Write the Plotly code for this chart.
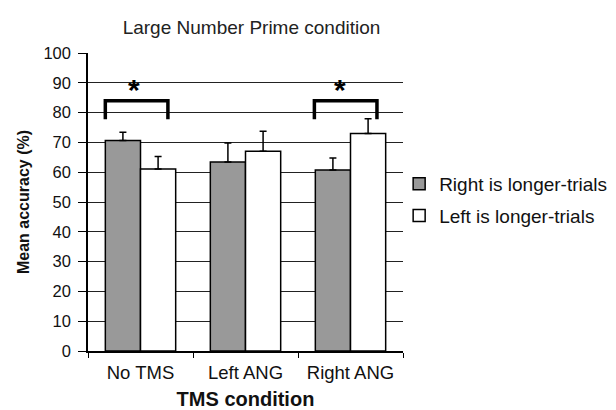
import plotly.graph_objects as go

categories = ["No TMS", "Left ANG", "Right ANG"]
right_longer = [70.6, 63.4, 60.7]
right_longer_err = [2.8, 6.4, 4.1]
left_longer = [61.1, 67.0, 73.0]
left_longer_err = [4.2, 6.7, 4.9]
y_ticks = list(range(0, 101, 10))

# significance brackets: (category index, left offset, right offset, top, leg bottom, star offset)
brackets = [(0, -0.335, 0.261, 84.0, 77.8, -0.06), (2, -0.344, 0.252, 84.0, 77.8, -0.096)]
star_level = 88.7

FONT = "Liberation Sans, Arial, sans-serif"

fig = go.Figure()
fig.add_trace(go.Bar(
    x=categories, y=right_longer, name="Right is longer-trials",
    marker=dict(color="#999999", line=dict(color="black", width=1.5)),
    error_y=dict(type="data", array=right_longer_err, arrayminus=[0]*3, symmetric=False,
                 color="black", thickness=1.5, width=3.5),
    legendgroup="a",
))
fig.add_trace(go.Bar(
    x=categories, y=left_longer, name="Left is longer-trials",
    marker=dict(color="white", line=dict(color="black", width=1.5)),
    error_y=dict(type="data", array=left_longer_err, arrayminus=[0]*3, symmetric=False,
                 color="black", thickness=1.5, width=3.5),
    legendgroup="b",
))

for ci, lo, hi, top, bot, so in brackets:
    fig.add_shape(type="path", xref="x", yref="y",
                  path=f"M {ci+lo} {bot} L {ci+lo} {top} L {ci+hi} {top} L {ci+hi} {bot}",
                  line=dict(color="black", width=3.5))
    fig.add_annotation(x=ci+so, y=star_level, xref="x", yref="y", text="<b>*</b>",
                       showarrow=False, font=dict(size=30, color="black", family=FONT),
                       yshift=-3)

fig.update_layout(
    width=616, height=410,
    margin=dict(l=80, r=209, t=45, b=67),
    paper_bgcolor="white", plot_bgcolor="white",
    font=dict(family=FONT, color="#111111"),
    barmode="group", bargap=0.33, bargroupgap=0,
    title=dict(text="Large Number Prime condition", x=243.5/616, xref="container", xanchor="center",
               y=1-19/410, yref="container", yanchor="middle",
               font=dict(size=19, color="#222222", family=FONT)),
    legend=dict(x=(403-80)/327, xanchor="left", y=1-(157-45)/298, yanchor="top",
                font=dict(size=19, color="#111111", family=FONT), bgcolor="rgba(0,0,0,0)",
                tracegroupgap=4, itemclick=False),
    showlegend=True,
)
fig.update_xaxes(
    type="category", tickson="boundaries", ticks="outside", ticklen=5, tickcolor="black",
    showline=True, linecolor="black", linewidth=1.5, showgrid=False,
    tickfont=dict(size=18.5, color="#111111", family=FONT), ticklabelstandoff=4,
    title=dict(text="<b>TMS condition</b>", font=dict(size=20, color="#111111", family=FONT), standoff=10),
    range=[-0.5, 2.5],
)
fig.update_yaxes(
    range=[0, 100], tickvals=y_ticks, ticks="outside", ticklen=8, tickcolor="black",
    showline=True, linecolor="black", linewidth=1.5,
    showgrid=True, gridcolor="#222222", gridwidth=1, zeroline=False,
    tickfont=dict(size=16.5, color="#111111", family=FONT), ticklabelstandoff=4,
    title=dict(text="<b>Mean accuracy (%)</b>", font=dict(size=16, color="#111111", family=FONT), standoff=10),
)

fig.write_html("out.html")
